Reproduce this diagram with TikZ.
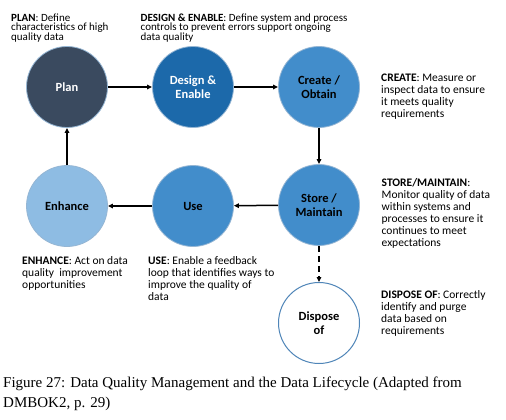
\documentclass[tikz,border=0pt]{standalone}
\usepackage{fontspec}
\setmainfont{Carlito}
\newfontfamily\capfont{Liberation Serif}
\usetikzlibrary{arrows.meta}
\definecolor{cplan}{HTML}{3A4A5F}
\definecolor{cdesign}{HTML}{1C69AA}
\definecolor{cmid}{HTML}{428DCB}
\definecolor{cenh}{HTML}{8EBCE3}
\definecolor{cline}{HTML}{4F85B8}
\begin{document}
\begin{tikzpicture}[x=1pt,y=-1pt,
  stage/.style={circle,minimum size=81pt,inner sep=0pt,draw=cline!60!white,line width=0.8pt,
    font=\fontsize{12.5}{14.5}\selectfont\bfseries,align=center},
  flow/.style={-{Triangle[length=5pt,width=4.5pt]},line width=1.5pt,black},
  anntop/.style={anchor=north west,inner sep=0pt,align=left,font=\fontsize{11}{9.6}\selectfont},
  ann/.style={anchor=north west,inner sep=0pt,align=left,font=\fontsize{11.5}{12}\selectfont}]
\useasboundingbox (0,0) rectangle (506,420);
\fill[white] (0,0) rectangle (506,420);

\node[stage,fill=cplan,text=white] (plan) at (67,87) {Plan};
\node[stage,fill=cdesign,text=white] (design) at (193,87) {Design \&\\Enable};
\node[stage,fill=cmid,text=black] (create) at (319,87) {Create /\\Obtain};
\node[stage,fill=cmid,text=black] (store) at (319,205) {Store /\\Maintain};
\node[stage,fill=cmid,text=black] (use) at (193,206) {Use};
\node[stage,fill=cenh,text=black] (enhance) at (67,206) {Enhance};
\node[stage,fill=white,draw=cline,line width=1pt,text=black] (dispose) at (319,323) {Dispose\\of};

\draw[flow] (plan) -- (design);
\draw[flow] (design) -- (create);
\draw[flow] (create) -- (store);
\draw[flow] (store) -- (use);
\draw[flow] (use) -- (enhance);
\draw[flow] (enhance) -- (plan);
\draw[flow,dash pattern=on 6pt off 4pt] (store) -- (dispose);

\node[anntop] (tplan) at (11,13.5) {\textbf{PLAN}: Define\\characteristics of high\\quality data};
\node[anntop] (tdesign) at (140.5,13.5) {\textbf{DESIGN \& ENABLE}: Define system and process\\controls to prevent errors support ongoing\\data quality};
\node[ann] (tcreate) at (381,74) {\textbf{CREATE}: Measure or\\inspect data to ensure\\it meets quality\\requirements};
\node[ann] (tstore) at (381.5,178) {\textbf{STORE/MAINTAIN}:\\Monitor quality of data\\within systems and\\processes to ensure it\\continues to meet\\expectations};
\node[ann] (tdispose) at (381,290) {\textbf{DISPOSE OF}: Correctly\\identify and purge\\data based on\\requirements};
\node[ann] (tenhance) at (22,256.5) {\textbf{ENHANCE}: Act on data\\quality~ improvement\\opportunities};
\node[ann] (tuse) at (148,256.5) {\textbf{USE}: Enable a feedback\\loop that identifies ways to\\improve the quality of\\data};

\node[anchor=north west,inner sep=0pt,align=left,font=\capfont\fontsize{15}{20}\selectfont] (caption) at (3,377)
  {Figure 27: Data Quality Management and the Data Lifecycle (Adapted from\\DMBOK2, p. 29)};
\end{tikzpicture}
\end{document}
